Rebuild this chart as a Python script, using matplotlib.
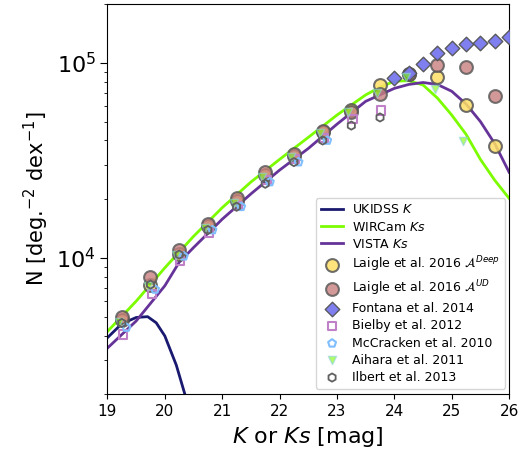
import numpy as np
import matplotlib
matplotlib.use("Agg")
import matplotlib.pyplot as plt

# ===============================
# Data
# ===============================
# model curves
ukidss_mag = [19.0, 19.25, 19.5, 19.7, 19.85, 20.0, 20.2, 20.4]
ukidss_n = [3900, 4600, 4950, 5000, 4650, 3980, 2820, 1780]

wircam_mag = [19.0, 19.5, 20.0, 20.5, 21.0, 21.5, 22.0, 22.5, 23.0, 23.5,
              23.75, 24.0, 24.25, 24.5, 24.75, 25.0, 25.25, 25.5, 25.75, 26.0]
wircam_n = [4200, 6000, 8900, 12900, 18100, 24500, 32000, 41500, 54000, 68500,
            75000, 80500, 81000, 77000, 66000, 54000, 43000, 32000, 25000, 20200]

vista_mag = [19.0, 19.5, 20.0, 20.25, 20.5, 21.0, 21.5, 22.0, 22.5, 23.0, 23.5,
             24.0, 24.25, 24.5, 24.75, 25.0, 25.25, 25.5, 25.75, 26.0]
vista_n = [3450, 4750, 7200, 9500, 11300, 15800, 21300, 28200, 36400, 48500, 63500,
           74000, 77500, 79300, 77500, 71500, 61500, 50000, 38500, 27500]

# observed counts
bins = [19.25, 19.75, 20.25, 20.75, 21.25, 21.75, 22.25, 22.75, 23.25, 23.75,
        24.25, 24.75, 25.25, 25.75]
laigle_deep = [4800, 7300, 10500, 14500, 19500, 26500, 33500, 44000, 57000, 77000,
               88000, 85000, 61000, 37300]
laigle_ud = [5000, 8000, 11000, 15000, 20200, 27500, 34200, 44500, 56000, 69000,
             88000, 97000, 95000, 68000]

fontana_mag = [24.0, 24.25, 24.5, 24.75, 25.0, 25.25, 25.5, 25.75, 26.0]
fontana_n = [83500, 88500, 98500, 113000, 119000, 125500, 127000, 129500, 136000]

bielby_mag = [19.27, 19.77, 20.27, 20.77, 21.27, 21.77, 22.27, 22.77, 23.27, 23.77]
bielby_n = [4050, 6550, 9600, 13400, 18500, 25000, 32000, 41000, 51600, 57000]

mccracken_mag = [19.33, 19.83, 20.33, 20.83, 21.33, 21.83, 22.33, 22.83]
mccracken_n = [4400, 6900, 10200, 13900, 18300, 24500, 31000, 40000]

aihara_mag = [19.2, 19.7, 20.2, 20.7, 21.2, 21.7, 22.2, 22.7, 23.2, 23.7,
              24.2, 24.7, 25.2]
aihara_n = [4700, 7200, 10400, 14200, 19200, 26000, 33000, 43500, 56000, 70000,
            85000, 73500, 39700]

ilbert_mag = [19.25, 19.75, 20.25, 20.75, 21.25, 21.75, 22.25, 22.75, 23.25, 23.75]
ilbert_n = [4640, 7300, 10400, 13900, 18300, 24000, 31000, 40000, 47700, 52500]

# ===============================
# Plot
# ===============================
fig = plt.figure(figsize=(5.32, 4.59), dpi=100)
ax = fig.add_axes([0.202, 0.141, 0.755, 0.850])

ax.plot(ukidss_mag, ukidss_n, color="#191970", lw=2, label="UKIDSS $K$")
ax.plot(wircam_mag, wircam_n, color="#7cfc00", lw=2, label="WIRCam $Ks$")
ax.plot(vista_mag, vista_n, color="#663399", lw=2, label="VISTA $Ks$")

edge = "#555555"
ax.scatter(bins, laigle_deep, s=85, c="#ffe066", edgecolors=edge, linewidths=1.5,
           alpha=0.85, label=r"Laigle et al. 2016 $\mathcal{A}^{Deep}$", zorder=3)
ax.scatter(bins, laigle_ud, s=85, c="#c88080", edgecolors=edge, linewidths=1.5,
           alpha=0.8, label=r"Laigle et al. 2016 $\mathcal{A}^{UD}$", zorder=3)
ax.scatter(fontana_mag, fontana_n, s=55, marker="D", c="#7878f0", edgecolors=edge,
           linewidths=1, alpha=0.95, label="Fontana et al. 2014", zorder=3)
ax.scatter(bielby_mag, bielby_n, s=35, marker="s", facecolors="none",
           edgecolors="#c080c8", linewidths=1.5, label="Bielby et al. 2012", zorder=3)
ax.scatter(mccracken_mag, mccracken_n, s=35, marker="p", facecolors="none",
           edgecolors="#7fbfff", linewidths=1.5, label="McCracken et al. 2010", zorder=3)
ax.scatter(aihara_mag, aihara_n, s=35, marker="v", c="#7cfc00", edgecolors="#8fd0e0",
           linewidths=1, alpha=0.6, label="Aihara et al. 2011", zorder=3)
ax.scatter(ilbert_mag, ilbert_n, s=35, marker="h", facecolors="none",
           edgecolors="#606060", linewidths=1.3, label="Ilbert et al. 2013", zorder=3)

ax.set_yscale("log")
ax.set_xlim(19, 26)
ax.set_ylim(2000, 2.0e5)
ax.set_xticks(range(19, 27))
ax.tick_params(axis="x", labelsize=11)
ax.tick_params(axis="y", which="major", labelsize=16, length=5)
ax.set_xlabel("$K$ or $Ks$ [mag]", fontsize=16)
ax.set_ylabel("N [deg.$^{-2}$ dex$^{-1}$]", fontsize=15)

ax.legend(loc="lower right", bbox_to_anchor=(0.99, 0.014), borderaxespad=0,
          fontsize=9, frameon=True, handlelength=1.8, borderpad=0.4,
          labelspacing=0.33, handletextpad=0.7)

fig.savefig("out.png", dpi=100)
